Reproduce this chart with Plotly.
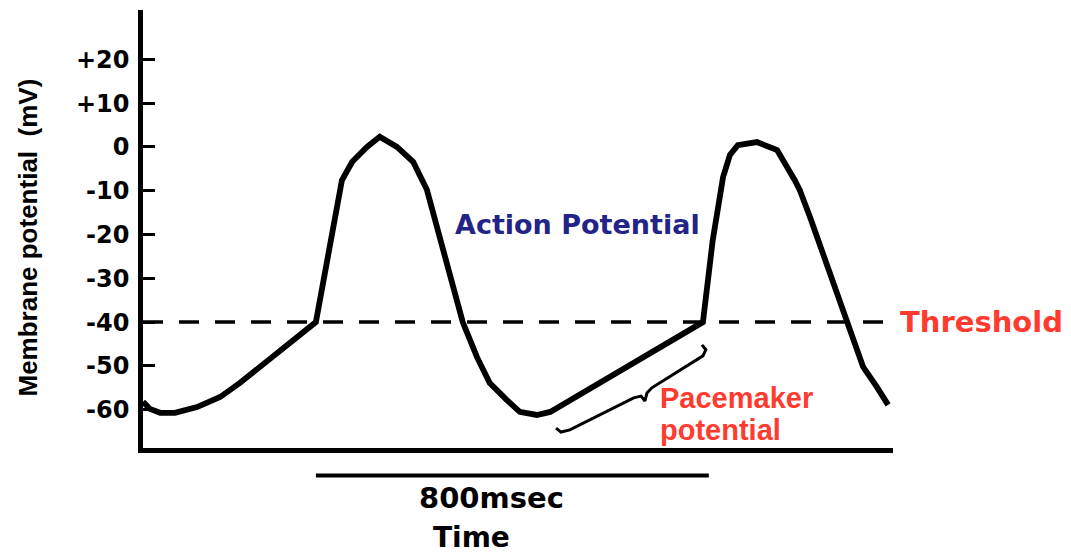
import plotly.graph_objects as go

# ---- data (time in ms, membrane potential in mV) ----
time_ms = [0, 14, 35, 65, 110, 157, 197, 352,
           405, 426, 456, 482, 517, 550, 578,
           651, 680, 706, 741, 767, 802, 829, 849,
           1140, 1160, 1181, 1195, 1211, 1250, 1291, 1327, 1337, 1358,
           1433, 1466, 1494, 1517]
membrane_mv = [-58.2, -59.8, -60.7, -60.7, -59.4, -57.1, -53.9, -40.0,
               -7.6, -3.4, 0.0, 2.3, 0.0, -3.4, -9.8,
               -40.0, -48.0, -53.9, -57.8, -60.5, -61.2, -60.5, -59.2,
               -40.0, -21.3, -6.9, -1.8, 0.4, 1.1, -0.7, -7.6, -9.8, -16.0,
               -40.0, -50.2, -54.8, -58.9]

threshold_mv = -40
threshold_t = [0, 1521]

brace_t = [1138, 1146, 1140, 1036, 1026, 1022, 1014, 999, 869, 851, 841]
brace_v = [-45.2, -46.3, -47.7, -55.0, -56.2, -58.0, -56.9, -57.3, -64.6, -65.1, -64.2]

interval_t = [352, 1152]
interval_label = "800msec"

tick_vals = [20, 10, 0, -10, -20, -30, -40, -50, -60]
tick_text = ["+20", "+10", "0", "-10", "-20", "-30", "-40", "-50", "-60"]

x_range = [0, 1527]
y_range = [-68.74, 31.26]

RED = "#FF3A2E"
NAVY = "#232388"
BIG = "DejaVu Sans"

fig = go.Figure()

fig.add_trace(go.Scatter(
    x=threshold_t, y=[threshold_mv] * len(threshold_t), mode="lines",
    line=dict(color="black", width=3.5, dash="20px,16px"),
    hoverinfo="skip", showlegend=False))

fig.add_trace(go.Scatter(
    x=time_ms, y=membrane_mv, mode="lines",
    line=dict(color="black", width=5.8),
    showlegend=False))

fig.add_trace(go.Scatter(
    x=brace_t, y=brace_v, mode="lines",
    line=dict(color="black", width=3),
    hoverinfo="skip", showlegend=False))

fig.update_layout(
    width=1071, height=554,
    margin=dict(l=143, r=178, t=10, b=106),
    paper_bgcolor="white", plot_bgcolor="white",
    showlegend=False,
    xaxis=dict(range=x_range, showline=True, linewidth=4.5, linecolor="black",
               showgrid=False, zeroline=False, showticklabels=False, ticks=""),
    yaxis=dict(range=y_range, showline=True, linewidth=4.5, linecolor="black",
               showgrid=False, zeroline=False,
               tickmode="array", tickvals=tick_vals, ticktext=tick_text,
               ticks="inside", ticklen=12, tickwidth=2.5, tickcolor="black",
               ticklabelstandoff=4,
               tickfont=dict(family=BIG, size=24, color="black", weight="bold")),
)

# 800 msec scale bar below the axis
fig.add_shape(type="line", xref="x", yref="paper",
              x0=interval_t[0], x1=interval_t[1],
              y0=-0.0628, y1=-0.0628,
              line=dict(color="black", width=4))

annotations = [
    dict(text=interval_label, xref="x", yref="paper",
         x=(interval_t[0] + interval_t[1]) / 2 - 43, y=-0.114,
         xanchor="center", yanchor="middle", showarrow=False,
         font=dict(family=BIG, size=29, color="black", weight="bold")),
    dict(text="Time", xref="x", yref="paper", x=668, y=-0.205,
         xanchor="center", yanchor="middle", showarrow=False,
         font=dict(family=BIG, size=28, color="black", weight="bold")),
    dict(text="Threshold", xref="paper", yref="y", x=1.0067, y=threshold_mv,
         xanchor="left", yanchor="middle", showarrow=False,
         font=dict(family=BIG, size=29, color=RED, weight="bold")),
    dict(text="Action Potential", xref="x", yref="y", x=631, y=-17.6,
         xanchor="left", yanchor="middle", showarrow=False,
         font=dict(family=BIG, size=27, color=NAVY, weight="bold")),
    dict(text="Pacemaker", xref="x", yref="y", x=1048, y=-57.3,
         xanchor="left", yanchor="middle", showarrow=False,
         font=dict(family="Liberation Sans", size=29, color=RED, weight="bold")),
    dict(text="potential", xref="x", yref="y", x=1048, y=-64.6,
         xanchor="left", yanchor="middle", showarrow=False,
         font=dict(family="Liberation Sans", size=29, color=RED, weight="bold")),
    dict(text="Membrane potential  (mV)", xref="paper", yref="paper",
         x=-0.1533, y=0.4806, textangle=-90,
         xanchor="center", yanchor="middle", showarrow=False,
         font=dict(family="Liberation Sans", size=26, color="black", weight="bold")),
]
fig.update_layout(annotations=annotations)

fig.write_html(
    "out.html",
    config={"displayModeBar": False},
    post_script="document.body.style.margin='0px';document.body.style.padding='0px';",
)
